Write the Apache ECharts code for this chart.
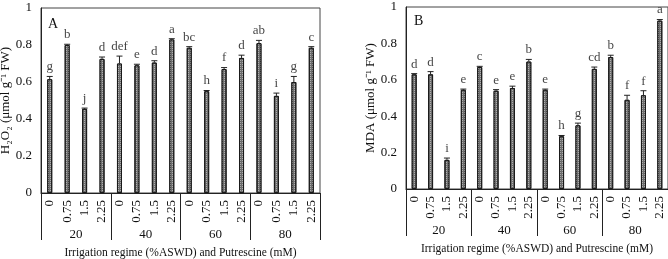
<!DOCTYPE html>
<html>
<head>
<meta charset="utf-8">
<script src="https://cdn.jsdelivr.net/npm/echarts@6/dist/echarts.min.js"></script>
<style>
html, body { margin: 0; padding: 0; background: #fff; }
#main { width: 668px; height: 259px; }
</style>
</head>
<body>
<div id="main"></div>
<script>
// categories
var putLevels = ["0", "0.75", "1.5", "2.25", "0", "0.75", "1.5", "2.25", "0", "0.75", "1.5", "2.25", "0", "0.75", "1.5", "2.25"];
var irrGroups = ["20", "40", "60", "80"];
var yTicks = [0, 0.2, 0.4, 0.6, 0.8, 1];

// panel A: H2O2
var h2o2 = [0.615, 0.80, 0.455, 0.725, 0.70, 0.69, 0.705, 0.83, 0.785, 0.55, 0.67, 0.73, 0.81, 0.525, 0.60, 0.785];
var h2o2Err = [0.015, 0.004, 0.004, 0.01, 0.04, 0.006, 0.01, 0.004, 0.006, 0.004, 0.008, 0.015, 0.015, 0.015, 0.03, 0.006];
var h2o2Letters = ["g", "b", "j", "d", "def", "e", "d", "a", "bc", "h", "f", "d", "ab", "i", "g", "c"];

// panel B: MDA
var mda = [0.63, 0.63, 0.16, 0.545, 0.67, 0.54, 0.555, 0.70, 0.545, 0.29, 0.35, 0.66, 0.725, 0.49, 0.515, 0.925];
var mdaErr = [0.004, 0.015, 0.01, 0.004, 0.004, 0.006, 0.01, 0.012, 0.004, 0.004, 0.012, 0.01, 0.01, 0.025, 0.025, 0.006];
var mdaLetters = ["d", "d", "i", "e", "c", "e", "e", "b", "e", "h", "g", "cd", "b", "f", "f", "a"];

var FONT = "Liberation Serif";
var xTitle = "Irrigation regime (%ASWD) and Putrescine (mM)";

var chart = echarts.init(document.getElementById('main'));

var errItem = function(params, api){
	var x = api.value(0);
	var base = api.coord([x, api.value(1)]);
	var top = api.coord([x, api.value(2)]);
	var style = { stroke: '#222', lineWidth: 1 };
	return {
		type: 'group',
		children: [
			{ type: 'line', shape: { x1: base[0], y1: base[1], x2: top[0], y2: top[1] }, style: style },
			{ type: 'line', shape: { x1: top[0] - 3, y1: top[1], x2: top[0] + 3, y2: top[1] }, style: style }
		]
	};
};

var makeSeries = function(idx, vals, errs, letters){
	var errData = [];
	var lblData = [];
	for (var i = 0; i < vals.length; i++) {
		errData.push([i, vals[i], vals[i] + errs[i]]);
		lblData.push({ value: [i, vals[i] + errs[i]], letter: letters[i] });
	}
	return [
		{
			type: 'bar', xAxisIndex: idx * 2, yAxisIndex: idx, data: vals, barWidth: 5,
			itemStyle: {
				color: '#6e6e6e', borderColor: '#1a1a1a', borderWidth: 1,
				decal: { symbol: 'rect', symbolSize: 1, dashArrayX: [1, 1], dashArrayY: [1, 1], color: 'rgba(220,220,220,0.6)' }
			},
			silent: true, z: 2
		},
		{
			type: 'custom', xAxisIndex: idx * 2, yAxisIndex: idx, data: errData,
			renderItem: errItem, silent: true, z: 3
		},
		{
			type: 'scatter', xAxisIndex: idx * 2, yAxisIndex: idx, data: lblData, symbolSize: 0,
			label: {
				show: true, position: 'top', distance: 3, color: '#111',
				fontFamily: FONT, fontSize: 13,
				formatter: function(p){ return p.data.letter; }
			},
			silent: true, z: 4
		}
	];
};

var makeX = function(idx){
	return [
		{
			type: 'category', gridIndex: idx, data: putLevels,
			axisLine: { show: true, lineStyle: { color: '#222', width: 1 } },
			axisTick: { show: false },
			axisLabel: { rotate: 90, interval: 0, margin: 7, fontFamily: FONT, fontSize: 13, color: '#111' }
		},
		{
			type: 'category', gridIndex: idx, data: irrGroups, position: 'bottom',
			axisLine: { show: false },
			axisTick: { show: true, length: 47, interval: 0, lineStyle: { color: '#222', width: 1 } },
			axisLabel: { interval: 0, margin: 35, fontFamily: FONT, fontSize: 13, color: '#111' },
			name: xTitle, nameLocation: 'middle', nameGap: 54,
			nameTextStyle: { fontFamily: FONT, fontSize: 11.5, color: '#111' }
		}
	];
};

var makeY = function(idx, name){
	return {
		type: 'value', gridIndex: idx, min: 0, max: 1, interval: 0.2,
		splitLine: { show: false },
		axisLine: { show: true, lineStyle: { color: '#222', width: 1 } },
		axisTick: { show: false },
		axisLabel: {
			margin: 9, fontFamily: FONT, fontSize: 13, color: '#111',
			formatter: function(v){ return yTicks.indexOf(Math.round(v * 10) / 10) >= 0 ? String(Math.round(v * 10) / 10) : ''; }
		},
		name: name, nameLocation: 'middle', nameGap: 27, nameRotate: 90,
		nameTextStyle: { fontFamily: FONT, fontSize: 13, color: '#111' }
	};
};

var option = {
	backgroundColor: '#fff',
	animation: false,
	title: [
		{ text: 'A', left: 43, top: 12, textStyle: { fontFamily: FONT, fontSize: 14, fontWeight: 'normal', color: '#111' } },
		{ text: 'B', left: 409, top: 9, textStyle: { fontFamily: FONT, fontSize: 14, fontWeight: 'normal', color: '#111' } }
	],
	grid: [
		{ left: 41, right: 348, top: 8, bottom: 66, outerBoundsMode: 'none', show: true, borderColor: '#444', borderWidth: 1 },
		{ left: 406, right: 0, top: 7, bottom: 70, outerBoundsMode: 'none', show: true, borderColor: '#444', borderWidth: 1 }
	],
	xAxis: makeX(0).concat(makeX(1)),
	yAxis: [
		makeY(0, 'H\u2082O\u2082 (\u03bcmol g\u207b\u00b9 FW)'),
		makeY(1, 'MDA (\u03bcmol g\u207b\u00b9 FW)')
	],
	series: makeSeries(0, h2o2, h2o2Err, h2o2Letters).concat(makeSeries(1, mda, mdaErr, mdaLetters))
};

chart.setOption(option);
</script>
</body>
</html>
